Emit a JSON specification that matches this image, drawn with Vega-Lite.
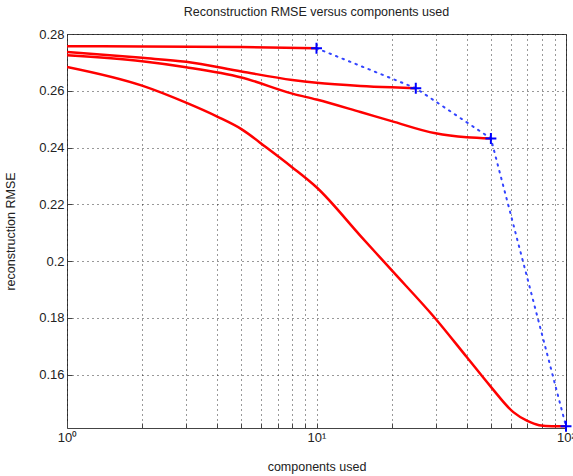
{
  "$schema": "https://vega.github.io/schema/vega-lite/v6.json",
  "autosize": "none",
  "width": 499,
  "height": 394,
  "padding": {"left": 67, "top": 34, "right": 7, "bottom": 48},
  "background": "white",
  "config": {
    "font": "Liberation Sans",
    "view": {"stroke": "#444", "strokeWidth": 1},
    "axis": {
      "domain": false,
      "grid": true,
      "gridColor": "#000",
      "gridDash": [1, 4],
      "gridOpacity": 0.8,
      "tickColor": "#444",
      "tickSize": -5,
      "labelColor": "#222",
      "labelFontSize": 13,
      "titleFontSize": 12.5,
      "titleFontWeight": "normal",
      "titleColor": "#222"
    }
  },
  "title": {"text": "Reconstruction RMSE versus components used", "fontSize": 12.5, "fontWeight": "normal", "color": "#222", "offset": 10},
  "datasets": {
    "curves": [
      {"run": "c10", "k": 1, "rmse": 0.2757},
      {"run": "c10", "k": 2, "rmse": 0.2756},
      {"run": "c10", "k": 5, "rmse": 0.2754},
      {"run": "c10", "k": 10, "rmse": 0.2750},
      {"run": "c25", "k": 1, "rmse": 0.2737},
      {"run": "c25", "k": 2, "rmse": 0.2716},
      {"run": "c25", "k": 3, "rmse": 0.2702},
      {"run": "c25", "k": 5, "rmse": 0.2668},
      {"run": "c25", "k": 8, "rmse": 0.2638},
      {"run": "c25", "k": 10, "rmse": 0.2628},
      {"run": "c25", "k": 15, "rmse": 0.2617},
      {"run": "c25", "k": 20, "rmse": 0.2612},
      {"run": "c25", "k": 25, "rmse": 0.2609},
      {"run": "c50", "k": 1, "rmse": 0.2725},
      {"run": "c50", "k": 2, "rmse": 0.2704},
      {"run": "c50", "k": 3, "rmse": 0.2683},
      {"run": "c50", "k": 5, "rmse": 0.2647},
      {"run": "c50", "k": 8, "rmse": 0.2590},
      {"run": "c50", "k": 10, "rmse": 0.2569},
      {"run": "c50", "k": 15, "rmse": 0.2525},
      {"run": "c50", "k": 20, "rmse": 0.2493},
      {"run": "c50", "k": 30, "rmse": 0.2450},
      {"run": "c50", "k": 40, "rmse": 0.2436},
      {"run": "c50", "k": 50, "rmse": 0.2432},
      {"run": "c100", "k": 1, "rmse": 0.2684},
      {"run": "c100", "k": 2, "rmse": 0.2618},
      {"run": "c100", "k": 3, "rmse": 0.2558},
      {"run": "c100", "k": 4, "rmse": 0.2509},
      {"run": "c100", "k": 5, "rmse": 0.2465},
      {"run": "c100", "k": 6.3, "rmse": 0.2400},
      {"run": "c100", "k": 8, "rmse": 0.2330},
      {"run": "c100", "k": 10, "rmse": 0.2260},
      {"run": "c100", "k": 15, "rmse": 0.2089},
      {"run": "c100", "k": 20, "rmse": 0.1968},
      {"run": "c100", "k": 30, "rmse": 0.1797},
      {"run": "c100", "k": 40, "rmse": 0.1662},
      {"run": "c100", "k": 50, "rmse": 0.1557},
      {"run": "c100", "k": 61.5, "rmse": 0.1468},
      {"run": "c100", "k": 70, "rmse": 0.1437},
      {"run": "c100", "k": 78, "rmse": 0.1422},
      {"run": "c100", "k": 88, "rmse": 0.1418},
      {"run": "c100", "k": 100, "rmse": 0.1418}
    ],
    "finals": [
      {"k": 10, "rmse": 0.2750},
      {"k": 25, "rmse": 0.2609},
      {"k": 50, "rmse": 0.2432},
      {"k": 100, "rmse": 0.1418}
    ]
  },
  "layer": [
    {
      "data": {"name": "curves"},
      "mark": {"type": "line", "color": "#ff0000", "strokeWidth": 2.5, "interpolate": "monotone", "clip": true},
      "encoding": {
        "x": {
          "field": "k", "type": "quantitative",
          "scale": {"type": "log", "domain": [1, 100], "nice": false},
          "axis": {
            "title": "components used",
            "values": [1, 2, 3, 4, 5, 6, 7, 8, 9, 10, 20, 30, 40, 50, 60, 70, 80, 90, 100],
            "labelExpr": "datum.value == 1 ? '10⁰' : datum.value == 10 ? '10¹' : datum.value == 100 ? '10²' : ''",
            "labelFontSize": 13,
            "labelPadding": 8,
            "titleY": 32,
            "labelFlush": false
          }
        },
        "y": {
          "field": "rmse", "type": "quantitative",
          "scale": {"domain": [0.1412, 0.28], "nice": false, "zero": false},
          "axis": {
            "title": "reconstruction RMSE",
            "values": [0.16, 0.18, 0.2, 0.22, 0.24, 0.26, 0.28],
            "format": ".2~f",
            "labelPadding": 8,
            "titleX": -50
          }
        },
        "detail": {"field": "run"}
      }
    },
    {
      "data": {"name": "finals"},
      "mark": {"type": "line", "color": "#3344ff", "strokeWidth": 2, "strokeDash": [1.5, 5.5], "strokeCap": "round", "clip": true},
      "encoding": {
        "x": {"field": "k", "type": "quantitative"},
        "y": {"field": "rmse", "type": "quantitative"}
      }
    },
    {
      "data": {"name": "finals"},
      "mark": {"type": "point", "shape": "M-1,0L1,0M0,-1L0,1", "size": 120, "stroke": "#0000ff", "strokeWidth": 2, "filled": false, "opacity": 1},
      "encoding": {
        "x": {"field": "k", "type": "quantitative"},
        "y": {"field": "rmse", "type": "quantitative"}
      }
    }
  ]
}
